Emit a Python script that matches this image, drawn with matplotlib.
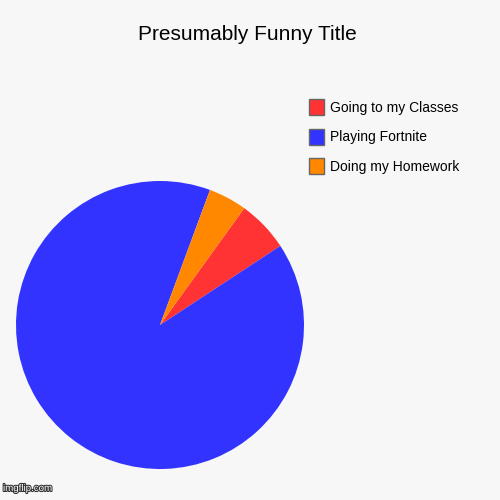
import matplotlib.pyplot as plt
import matplotlib.patheffects as pe
from matplotlib.patches import Patch

labels = ['Going to my Classes', 'Playing Fortnite', 'Doing my Homework']
values = [5.8, 89.9, 4.3]
colors = ['#ff3333', '#3333ff', '#ff8800']

plt.rcParams['font.family'] = ['Liberation Sans', 'DejaVu Sans']

fig = plt.figure(figsize=(5, 5), dpi=100, facecolor='#f7f7f7')
ax = fig.add_axes([0.032, 0.062, 0.576, 0.576])
ax.set_facecolor('#f7f7f7')
ax.pie(values, colors=colors, startangle=54.2, counterclock=False,
       radius=1, wedgeprops=dict(linewidth=0))
ax.set_xlim(-1, 1)
ax.set_ylim(-1, 1)
ax.axis('off')

fig.text(0.494, 0.932, 'Presumably Funny Title', ha='center', va='center',
         fontsize=15, color='#000000')

handles = [Patch(facecolor=c, edgecolor='#666666', linewidth=1) for c in colors]
fig.legend(handles, labels, loc='upper left', bbox_to_anchor=(0.617, 0.802),
           frameon=False, fontsize=10, borderpad=0, borderaxespad=0,
           handlelength=1.15, handleheight=1.39, handletextpad=0.4,
           labelspacing=0.98)

fig.text(0.006, 0.014, 'imgflip.com', fontsize=7, color='white',
         ha='left', va='bottom',
         path_effects=[pe.withStroke(linewidth=1.5, foreground='#333333')])

fig.savefig('out.png', dpi=100, facecolor=fig.get_facecolor())
